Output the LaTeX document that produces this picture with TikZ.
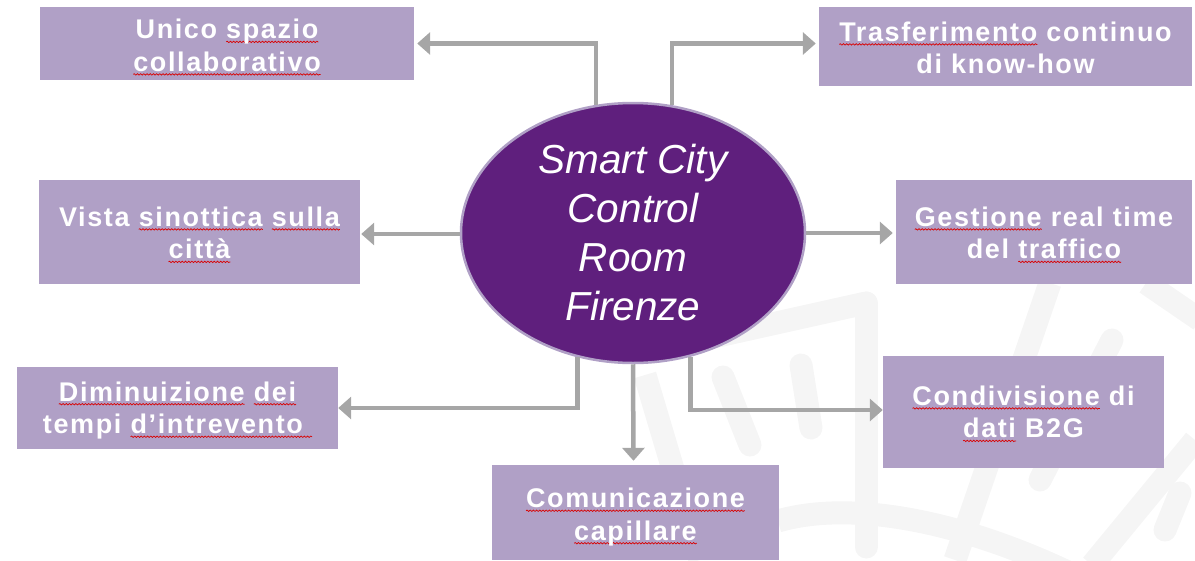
\documentclass[tikz,border=0pt]{standalone}
\usepackage{fontspec}
\setmainfont{Liberation Sans}
\newfontfamily\boxfont[LetterSpace=6,Ligatures=NoCommon]{Liberation Sans Bold}
\usetikzlibrary{shapes.geometric,arrows.meta,decorations.pathmorphing}
\definecolor{boxfill}{HTML}{B0A0C6}
\definecolor{hubfill}{HTML}{5F1F7D}
\definecolor{arrowgray}{HTML}{A6A6A6}
\definecolor{markgray}{HTML}{F5F5F5}
\newcommand{\sq}[1]{\setbox0\hbox{#1}\rlap{\tikz[overlay,baseline=0pt]\draw[red!85!black,line width=.7pt,decorate,decoration={snake,amplitude=.7pt,segment length=3.2pt}] (0pt,-3pt) -- (\the\wd0,-3pt);}\box0\relax}
\tikzset{
  infobox/.style={draw=none,fill=boxfill,inner sep=0pt,anchor=center},
  boxtext/.style={text=white,align=center,inner sep=0pt,font=\boxfont\fontsize{27}{32.5}\selectfont},
  hub/.style={ellipse,draw=boxfill,line width=2.5pt,fill=hubfill,text=white,align=center,inner sep=0pt,minimum width=344pt,minimum height=260pt,font=\itshape\fontsize{40.5}{49}\selectfont},
  link/.style={draw=arrowgray,line width=4.5pt,-{Triangle[length=13pt,width=22pt]}},
  wmark/.style={draw=markgray,line width=23pt,line cap=round}
}
% name, x0, y0, x1, y1, text shift down, text
\newcommand{\bx}[7]{\node[infobox,minimum width=#4pt-#2pt,minimum height=#5pt-#3pt] (#1) at ({(#2+#4)/2},{(#3+#5)/2}) {};
\node[boxtext,yshift=-#6pt] (#1text) at (#1.center) {#7};}
\begin{document}
\begin{tikzpicture}[x=1pt,y=-1pt]
\useasboundingbox (0,0) rectangle (1195,560);
% watermark
\draw[wmark] (866,303) -- (700,340);
\draw[wmark] (866,303) -- (866,547);
\draw[wmark,line cap=butt] (645,375) -- (700,560);
\draw[wmark] (723,377) -- (750,445);
\draw[wmark] (801,365) -- (811,428);
\draw[wmark,line cap=butt] (778,521) .. controls (850,500) and (960,520) .. (1074,575);
\draw[wmark,line cap=butt] (1050,283) -- (955,560);
\draw[wmark] (1112,340) -- (1040,480);
\draw[wmark,line cap=butt] (1195,440) -- (1092,565);
\draw[wmark] (1180,493) -- (1165,530);
\draw[wmark,line cap=butt] (1146,283) -- (1200,320);
% boxes
\bx{a}{40}{7}{414}{80}{2}{Unico \sq{spazio}\\\sq{collaborativo}}
\bx{b}{819}{7}{1192}{86}{1.5}{\sq{Trasferimento} continuo\\di know-how}
\bx{c}{39}{180}{360}{284}{1}{Vista \sq{sinottica} \sq{sulla}\\\sq{città}}
\bx{d}{896}{180}{1192}{284}{1}{\sq{Gestione} real time\\del \sq{traffico}}
\bx{e}{17}{367}{338}{449}{2.5}{\sq{Diminuizione} \sq{dei}\\tempi \sq{d’intrevento\ }}
\bx{f}{883}{356}{1164}{468}{0}{\sq{Condivisione} di\\\sq{dati} B2G}
\bx{g}{492}{465}{779}{560}{4.5}{\sq{Comunicazione}\\\sq{capillare}}
% hub
\node[hub] (hubnode) at (633,233) {Smart City\\Control\\Room\\Firenze};
% connectors
\coordinate (aend) at ([xshift=3pt]a.east);
\coordinate (bend) at ([xshift=-3pt,yshift=3pt]b.west);
\coordinate (cend) at ([xshift=1pt,yshift=-2pt]c.east);
\coordinate (dend) at ([xshift=-3pt,yshift=-1pt]d.west);
\coordinate (eend) at (e.east);
\coordinate (fend) at ([yshift=2pt]f.west);
\coordinate (gend) at ([xshift=-2pt,yshift=4pt]g.north);
\draw[link] (hubnode.106.5) |- (aend);
\draw[link] (hubnode.73.5) |- (bend);
\draw[link] (hubnode.west |- cend) -- (cend);
\draw[link] (hubnode.east |- dend) -- (dend);
\draw[link] (hubnode.246.2) |- (eend);
\draw[link] (hubnode.295) |- (fend);
\draw[link] (hubnode.south) -- (gend);
\end{tikzpicture}
\end{document}
